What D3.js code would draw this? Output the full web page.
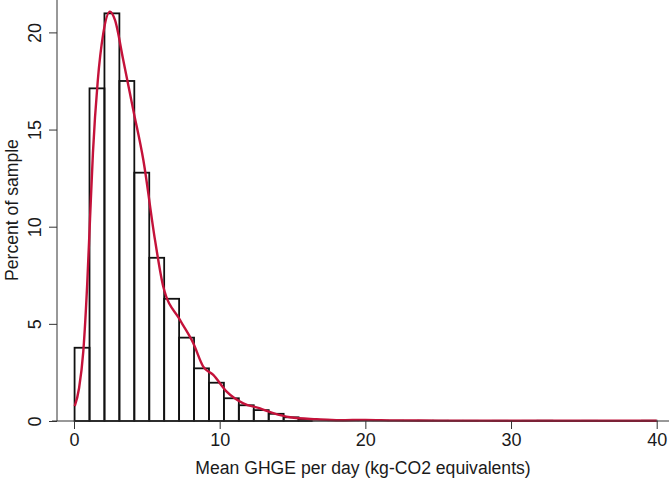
<!DOCTYPE html>
<html>
<head>
<meta charset="utf-8">
<script src="https://cdn.jsdelivr.net/npm/d3@7"></script>
<style>
  body { margin: 0; background: #fff; }
  svg { display: block; }
  text { font-family: "Liberation Sans", Arial, sans-serif; fill: #1a1a1a; }
</style>
</head>
<body>
<svg id="chart" width="669" height="480"></svg>
<script>
// ---- data ----
const binStart = 0.04;
const binWidth = 1.025;
const binPercents = [3.77, 17.12, 20.98, 17.5, 12.78, 8.4, 6.29, 4.29, 2.71, 1.97,
  1.17, 0.81, 0.56, 0.37, 0.19, 0.1, 0.06, 0.04, 0.03, 0.03,
  0.02, 0.02, 0.01, 0.02, 0.02, 0.01, 0.01, 0.0, 0.01, 0.0,
  0.01, 0.02, 0.0, 0.0, 0.01, 0.0, 0.0, 0.0, 0.02];
const densityX = [0.05, 0.35, 0.64, 0.91, 1.1, 1.3, 1.63, 2.01, 2.47, 2.81, 3.38, 4.07, 4.76, 5.56, 6.13, 7.28, 8.19, 8.87, 9.56, 10.48, 11.62, 12.77, 13.68, 14.83, 16.66, 18.26, 20, 22, 25, 30, 35, 40];
const densityY = [0.77, 1.7, 3.6, 7.1, 10.4, 13.8, 17.5, 19.95, 21.07, 20.64, 18.58, 16.0, 13.43, 9.32, 6.91, 5.2, 4.0, 2.8, 2.37, 1.51, 0.91, 0.65, 0.40, 0.19, 0.09, 0.04, 0.06, 0.03, 0.02, 0.01, 0.01, 0.01];
const xTicks = [0, 10, 20, 30, 40];
const yTicks = [0, 5, 10, 15, 20];
const xTitle = "Mean GHGE per day (kg-CO2 equivalents)";
const yTitle = "Percent of sample";

// ---- scales ----
const svg = d3.select("#chart");
const x = d3.scaleLinear().domain([0, 40]).range([74, 656.7]);
const y = d3.scaleLinear().domain([0, 20]).range([421, 32.4]);
const FONT = 18;
const TITLE_FONT = 17.6;

// bars
const bins = binPercents.map((v, i) => ({ x0: binStart + i * binWidth, x1: binStart + (i + 1) * binWidth, v }));
svg.append("g").selectAll("rect").data(bins).join("rect")
  .attr("x", d => x(d.x0))
  .attr("y", d => y(d.v))
  .attr("width", d => x(d.x1) - x(d.x0))
  .attr("height", d => y(0) - y(d.v))
  .attr("fill", "none")
  .attr("stroke", d => d.v >= 0.1 ? "#111" : "#999")
  .attr("stroke-width", 1.8);

// density curve
const pts = densityX.map((vx, i) => [vx, densityY[i]]);
svg.append("path").datum(pts)
  .attr("d", d3.line().x(d => x(d[0])).y(d => y(d[1])).curve(d3.curveMonotoneX))
  .attr("fill", "none")
  .attr("stroke", "#c4123a")
  .attr("stroke-width", 2.4);

// axes
const xAxis = svg.append("g").attr("transform", `translate(0,${y(0)})`)
  .call(d3.axisBottom(x).tickValues(xTicks).tickSize(8).tickPadding(4));
xAxis.select(".domain").remove();
xAxis.append("line").attr("x1", 52).attr("x2", 669).attr("y1", 0).attr("y2", 0)
  .attr("stroke", "#333").attr("stroke-width", 1);
xAxis.selectAll(".tick line").attr("stroke", "#333");
xAxis.selectAll(".tick text").attr("font-size", FONT).attr("fill", "#1a1a1a")
  .style("font-family", "'Liberation Sans', Arial, sans-serif");

const yAxis = svg.append("g").attr("transform", `translate(57,0)`)
  .call(d3.axisLeft(y).tickValues(yTicks).tickSize(8).tickFormat(d3.format("d")));
yAxis.select(".domain").remove();
yAxis.append("line").attr("x1", 0).attr("x2", 0).attr("y1", 0).attr("y2", y(0))
  .attr("stroke", "#333").attr("stroke-width", 1);
yAxis.selectAll(".tick line").attr("stroke", "#333");
yAxis.selectAll(".tick text")
  .attr("x", null).attr("dy", null)
  .attr("transform", "translate(-16,0) rotate(-90)")
  .attr("text-anchor", "middle")
  .attr("font-size", FONT).attr("fill", "#1a1a1a")
  .style("font-family", "'Liberation Sans', Arial, sans-serif");

// titles
svg.append("text").attr("x", 363).attr("y", 474).attr("text-anchor", "middle")
  .attr("font-size", TITLE_FONT).text(xTitle);
svg.append("text").attr("transform", `translate(18,${y(10.86)}) rotate(-90)`)
  .attr("text-anchor", "middle").attr("font-size", TITLE_FONT).text(yTitle);
</script>
</body>
</html>
